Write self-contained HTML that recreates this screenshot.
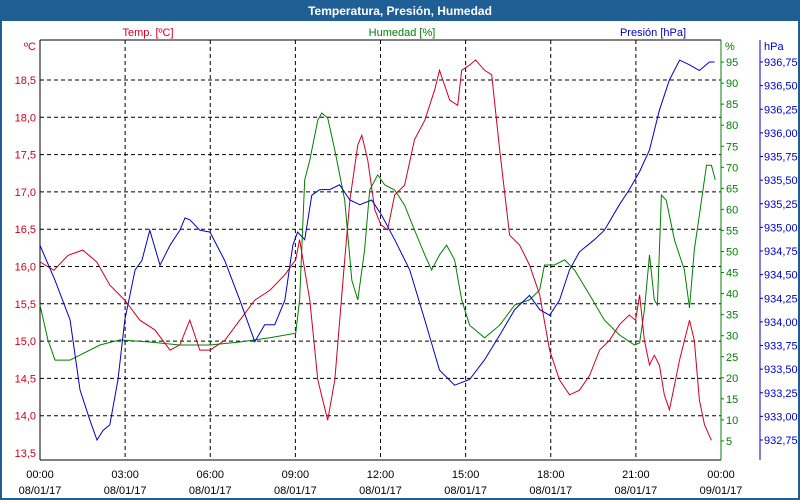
<!DOCTYPE html>
<html><head><meta charset="utf-8"><style>
html,body{margin:0;padding:0;background:#fff}
svg{display:block;font-family:"Liberation Sans",sans-serif}
</style></head><body>
<svg id="chart" width="800" height="500">
<rect x="0" y="0" width="800" height="500" fill="#1f5f96"/>
<rect x="2" y="21" width="796" height="477" fill="#fff"/>
<text x="400" y="15" text-anchor="middle" font-size="12" font-weight="bold" fill="#fff">Temperatura, Presión, Humedad</text>
<text x="148" y="36" text-anchor="middle" font-size="11" fill="#d00020">Temp. [ºC]</text>
<text x="402" y="36" text-anchor="middle" font-size="11" fill="#008000">Humedad [%]</text>
<text x="653" y="36" text-anchor="middle" font-size="11" fill="#0000c8">Presión [hPa]</text>
<g id="grid"></g><g id="axes"></g><g id="series"></g>
</svg>
<script>
const hours=[0,3,6,9,12,15,18,21,24];
const timeLabels=["00:00","03:00","06:00","09:00","12:00","15:00","18:00","21:00","00:00"];
const dateLabels=["08/01/17","08/01/17","08/01/17","08/01/17","08/01/17","08/01/17","08/01/17","08/01/17","09/01/17"];
const tempTicks=[18.5,18,17.5,17,16.5,16,15.5,15,14.5,14,13.5];
const humTicks=[5,10,15,20,25,30,35,40,45,50,55,60,65,70,75,80,85,90,95];
const presTicks=[932.75,933,933.25,933.5,933.75,934,934.25,934.5,934.75,935,935.25,935.5,935.75,936,936.25,936.5,936.75];
const tempT=[0,0.49,0.99,1.51,2,2.46,2.99,3.52,4.05,4.58,4.93,5.28,5.63,5.99,6.51,7.04,7.57,8.1,8.63,9.01,9.15,9.51,9.79,10.14,10.39,10.74,10.92,11.2,11.34,11.55,11.8,12.01,12.25,12.5,12.85,13.2,13.56,13.91,14.08,14.44,14.72,14.86,15.14,15.35,15.67,15.92,16.2,16.55,16.9,17.25,17.61,17.96,18.31,18.66,19.01,19.37,19.72,20.07,20.42,20.77,20.99,21.13,21.3,21.48,21.65,21.83,22,22.18,22.36,22.54,22.89,23.06,23.24,23.42,23.66];
const tempV=[16.06,15.95,16.15,16.22,16.06,15.75,15.55,15.28,15.15,14.88,14.95,15.28,14.88,14.88,15.01,15.28,15.55,15.68,15.89,16.09,16.36,15.55,14.48,13.94,14.48,16.09,16.89,17.63,17.76,17.43,16.76,16.56,16.49,16.96,17.09,17.7,17.96,18.37,18.63,18.23,18.16,18.63,18.7,18.77,18.63,18.57,17.56,16.42,16.29,16.02,15.62,14.88,14.48,14.28,14.34,14.54,14.88,15.01,15.22,15.35,15.28,15.62,15.01,14.68,14.81,14.68,14.28,14.08,14.41,14.75,15.28,15.01,14.21,13.88,13.67];
const humT=[0,0.28,0.53,1.06,1.41,2.11,2.82,3.87,4.93,5.99,7.04,8.1,9.01,9.15,9.33,9.51,9.79,9.93,10.14,10.39,10.74,10.99,11.2,11.44,11.62,11.9,12.15,12.5,12.85,13.2,13.56,13.8,14.08,14.33,14.61,14.86,15.14,15.67,16.2,16.73,17.25,17.61,17.78,18.13,18.49,18.84,19.37,19.89,20.42,20.95,21.13,21.3,21.48,21.65,21.76,21.9,22.07,22.36,22.71,22.89,23.06,23.24,23.49,23.66,23.8];
const humV=[37.3,29,24.2,24.2,25.4,27.8,29,28.5,27.8,27.8,28.5,29.5,30.6,38.5,67,71.7,81.2,82.9,81.7,74.1,62.2,43.2,38.5,50.4,64.6,68.2,65.8,64.6,61,55.1,49.2,45.6,49.2,51.5,48,38.5,32.5,29.5,32.5,37.3,38.5,40.9,46.8,46.8,48,45.6,39.7,33.7,30.2,27.8,28.3,36.1,49.2,38.5,37.3,63.4,62.2,52.7,45.6,36.6,50.4,58.7,70.5,70.5,67];
const presT=[0,0.53,1.06,1.41,1.76,2.01,2.22,2.46,2.75,2.99,3.35,3.59,3.87,4.23,4.58,4.93,5.11,5.28,5.63,5.99,6.51,7.04,7.57,7.92,8.27,8.63,8.91,9.08,9.33,9.58,9.86,10.21,10.56,10.92,11.27,11.69,12.04,12.5,13.03,13.56,14.08,14.61,15.14,15.67,16.2,16.73,17.25,17.61,17.96,18.31,18.66,19.01,19.54,19.89,20.42,20.77,21.13,21.48,21.83,22.18,22.54,22.89,23.24,23.59,23.77];
const presV=[934.81,934.44,934.02,933.28,932.96,932.75,932.85,932.91,933.39,934.02,934.55,934.65,934.97,934.6,934.81,934.97,935.1,935.08,934.97,934.95,934.65,934.23,933.79,933.97,933.97,934.23,934.81,934.95,934.87,935.34,935.4,935.4,935.45,935.29,935.24,935.29,935.13,934.87,934.55,934.02,933.49,933.33,933.39,933.6,933.86,934.13,934.28,934.13,934.07,934.23,934.55,934.74,934.87,934.97,935.24,935.4,935.59,935.82,936.24,936.56,936.77,936.72,936.66,936.75,936.75];

const X0=40,X1=721,Y0=40,Y1=460;
const NS="http://www.w3.org/2000/svg";
const xS=h=>X0+h*(X1-X0)/24;
const tS=v=>80+(18.5-v)*74.6;
const hS=v=>462-v*4.21;
const pS=v=>62+(936.75-v)*94.5;
function mk(tag,attrs,parent){const e=document.createElementNS(NS,tag);for(const k in attrs)e.setAttribute(k,attrs[k]);parent.appendChild(e);return e;}
const grid=document.getElementById('grid'),axes=document.getElementById('axes'),ser=document.getElementById('series');
hours.forEach((h,i)=>{
  if(i>0&&i<hours.length-1){const l=mk('line',{x1:xS(h),x2:xS(h),y1:Y0,y2:Y1,stroke:'#000','stroke-dasharray':'4,3'},grid);
  
  }
  const t=mk('text',{x:xS(h),y:478,'text-anchor':'middle','font-size':11,fill:'#000'},axes);t.textContent=timeLabels[i];
  
  
  const d=mk('text',{x:xS(h),y:494,'text-anchor':'middle','font-size':11,fill:'#000'},axes);d.textContent=dateLabels[i];
  
  
});
tempTicks.forEach(v=>{
  if(v>13.6){const l=mk('line',{x1:X0,x2:X1,y1:tS(v),y2:tS(v),stroke:'#000','stroke-dasharray':'4,3'},grid);
  
  }
  const t=mk('text',{x:36,y:tS(v)+4,'text-anchor':'end','font-size':11,fill:'#d00020'},axes);t.textContent=v.toFixed(1).replace('.',',');
  
  
});
humTicks.forEach(v=>{const t=mk('text',{x:726,y:hS(v)+4,'font-size':11,fill:'#008000'},axes);t.textContent=v;
  
  
  mk('line',{x1:721,x2:724,y1:hS(v),y2:hS(v),stroke:'#008000'},axes);});
presTicks.forEach(v=>{const t=mk('text',{x:764,y:pS(v)+4,'font-size':11,fill:'#0000c8'},axes);t.textContent=v.toFixed(2).replace('.',',');
  
  
  mk('line',{x1:760,x2:763,y1:pS(v),y2:pS(v),stroke:'#0000c8'},axes);});
[['ºC',36,'end','#d00020','temp-unit'],['%',725,'start','#008000','humidity-unit'],['hPa',764,'start','#0000c8','pressure-unit']].forEach(u=>{
  const t=mk('text',{x:u[1],y:50,'text-anchor':u[2],'font-size':11,fill:u[3]},axes);t.textContent=u[0];
  
  });
const a1=mk('line',{x1:X0,x2:X0,y1:Y0,y2:Y1,stroke:'#000'},axes);


const a2=mk('line',{x1:X0,x2:X1,y1:Y0,y2:Y0,stroke:'#000'},axes);


const a3=mk('line',{x1:X0,x2:X1,y1:Y1,y2:Y1,stroke:'#000'},axes);


const a4=mk('line',{x1:X1,x2:X1,y1:Y0,y2:Y1,stroke:'#008000'},axes);


const a5=mk('line',{x1:760,x2:760,y1:Y0,y2:Y1,stroke:'#0000c8'},axes);


function line(ts,vs,sc,col,name){
  const p=mk('polyline',{points:ts.map((t,i)=>xS(t).toFixed(1)+','+sc(vs[i]).toFixed(1)).join(' '),fill:'none',stroke:col,'stroke-width':1},ser);
  
  
}
line(humT,humV,hS,'#008000','humidity-line');
line(tempT,tempV,tS,'#d00020','temperature-line');
line(presT,presV,pS,'#0000c8','pressure-line');
</script>
</body></html>
